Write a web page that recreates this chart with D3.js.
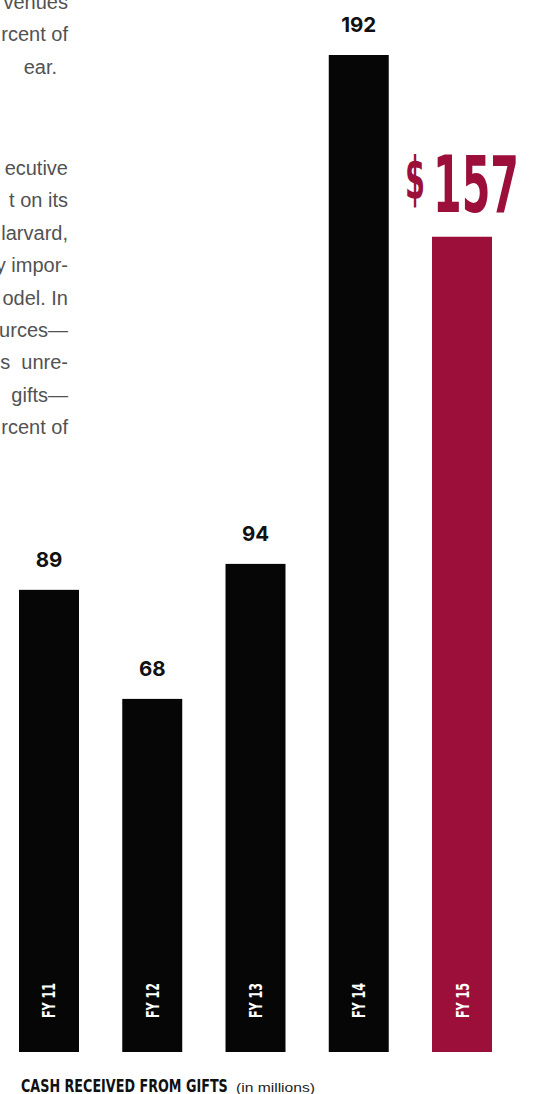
<!DOCTYPE html>
<html>
<head>
<meta charset="utf-8">
<script src="https://cdn.jsdelivr.net/npm/d3@7"></script>
<style>
  html, body { margin: 0; padding: 0; background: #fff; }
  svg { display: block; }
</style>
</head>
<body>
<svg id="chart" width="533" height="1094"></svg>
<script>
// Cash received from gifts, fiscal years 2011-2015 (in millions of dollars)
const years = ["FY 11", "FY 12", "FY 13", "FY 14", "FY 15"];
const gifts = [89, 68, 94, 192, 157];
const highlightYear = "FY 15";

// Body copy running down the left margin beside the chart
const introLines = ["venues", "rcent of", "ear."];
const bodyLines = ["ecutive", "t on its", "larvard,", "y impor-", "odel. In",
                   "urces\u2014", "s  unre-", "gifts\u2014", "rcent of"];

const chartTitle = "CASH RECEIVED FROM GIFTS";
const chartUnit = "(in millions)";

const INK = "#060606";
const CRIMSON = "#9c0f3b";
const COND = "'Liberation Sans Narrow', 'DejaVu Sans Condensed', 'Liberation Sans', sans-serif";

const svg = d3.select("#chart");

const x = d3.scaleBand().domain(years).range([19, 492]).paddingInner(0.419).paddingOuter(0);
const y = d3.scaleLinear().domain([0, 192]).range([1052, 55]);

// Squeeze a text horizontally so it spans the given width, anchored at (px, py)
function fitText(sel, px, py, width, rotate) {
  sel.each(function () {
    const node = this;
    const natural = node.getComputedTextLength();
    const k = natural > 0 ? width / natural : 1;
    d3.select(node)
      .attr("x", 0).attr("y", 0)
      .attr("transform", `translate(${px},${py})${rotate ? ` rotate(${rotate})` : ""} scale(${k},1)`);
  });
}

// Left column text, right-aligned to the column edge
const copy = svg.append("g")
  .attr("font-family", "'Liberation Sans', Arial, sans-serif")
  .attr("font-size", 20)
  .attr("fill", "#525252")
  .attr("text-anchor", "end");

copy.selectAll("text.intro").data(introLines).join("text")
  .attr("class", "intro")
  .attr("x", (d, i) => i === introLines.length - 1 ? 57 : 68)
  .attr("y", (d, i) => 8.6 + i * 32.5)
  .attr("xml:space", "preserve")
  .text(d => d);

copy.selectAll("text.body").data(bodyLines).join("text")
  .attr("class", "body")
  .attr("x", 68)
  .attr("y", (d, i) => 175 + i * 32.4)
  .attr("xml:space", "preserve")
  .text(d => d);

// Bars
const bars = svg.append("g");
bars.selectAll("rect").data(years).join("rect")
  .attr("x", d => x(d))
  .attr("width", x.bandwidth())
  .attr("y", (d, i) => y(gifts[i]))
  .attr("height", (d, i) => y(0) - y(gifts[i]))
  .attr("fill", d => d === highlightYear ? CRIMSON : INK);

// Value labels above the bars
const plain = years.map((d, i) => ({ year: d, value: gifts[i] })).filter(d => d.year !== highlightYear);
svg.append("g")
  .attr("font-family", "Inter, 'DejaVu Sans', sans-serif")
  .attr("font-weight", 700)
  .attr("font-size", 20.5)
  .attr("fill", "#111")
  .attr("text-anchor", "middle")
  .selectAll("text").data(plain).join("text")
  .attr("x", d => x(d.year) + x.bandwidth() / 2)
  .attr("y", d => y(d.value) - 23)
  .text(d => d.value);

// Highlighted value for the latest year
const hiIdx = years.indexOf(highlightYear);
const hiTop = y(gifts[hiIdx]);
const hi = svg.append("g")
  .attr("font-family", COND)
  .attr("font-weight", 700)
  .attr("fill", CRIMSON);
hi.append("text")
  .attr("font-size", 58)
  .text("$")
  .call(fitText, 405, hiTop - 38, 20);
hi.append("text")
  .attr("font-size", 78)
  .text(gifts[hiIdx])
  .call(fitText, 433, hiTop - 25, 86);

// Category labels, rotated inside the foot of each bar
svg.append("g")
  .attr("font-family", COND)
  .attr("font-weight", 700)
  .attr("font-size", 18)
  .attr("fill", "#fff")
  .selectAll("text").data(years).join("text")
  .text(d => d)
  .each(function (d) {
    d3.select(this).call(fitText, x(d) + x.bandwidth() / 2 + 6.5, 1018, 35, -90);
  });

// Chart title
svg.append("text")
  .attr("font-family", COND)
  .attr("font-weight", 700)
  .attr("font-size", 17)
  .attr("fill", "#111")
  .text(chartTitle)
  .call(fitText, 21, 1092, 207);
svg.append("text")
  .attr("font-family", "'Liberation Sans', Arial, sans-serif")
  .attr("font-size", 13.5)
  .attr("fill", "#222")
  .text(chartUnit)
  .call(fitText, 236, 1092, 79);
</script>
</body>
</html>
